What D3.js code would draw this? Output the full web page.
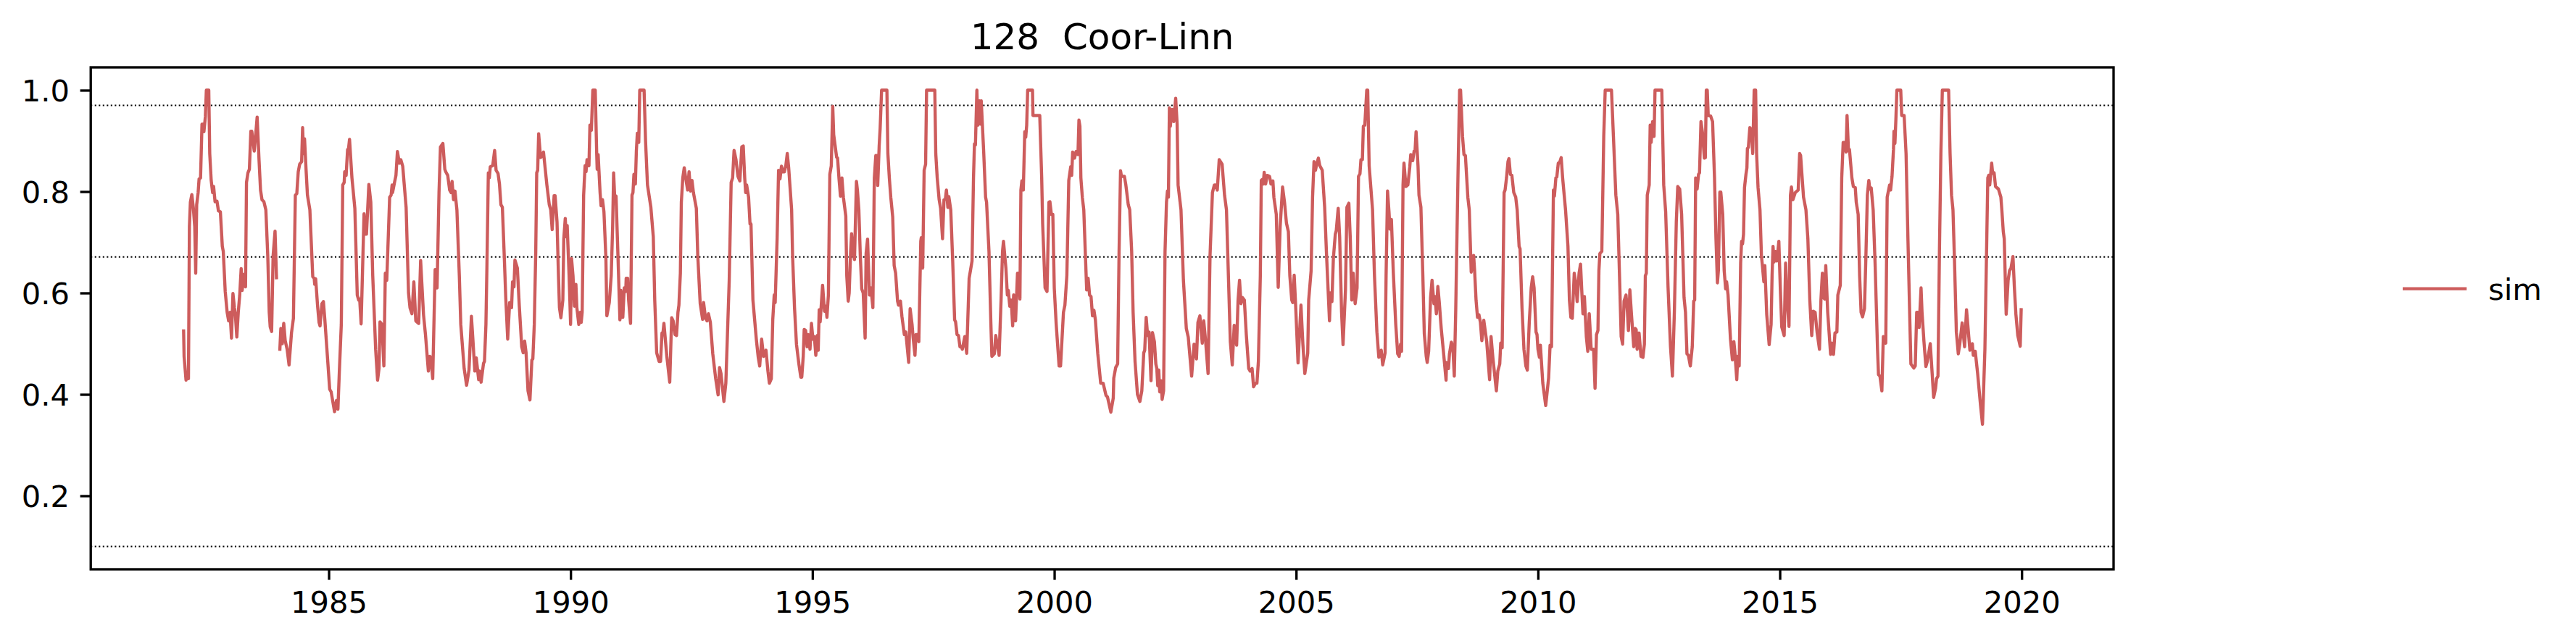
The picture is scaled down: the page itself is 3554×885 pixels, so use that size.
<!DOCTYPE html>
<html>
<head>
<meta charset="utf-8">
<script src="https://cdnjs.cloudflare.com/ajax/libs/d3/7.8.5/d3.min.js"></script>
<style>
html,body{margin:0;padding:0;background:#fff}
svg{display:block}
text{font-family:"DejaVu Sans",sans-serif;fill:#000}
</style>
</head>
<body>
<div id="chart"></div>
<script>
const chartTitle = "128  Coor-Linn";
const seriesName = "sim";
const xTicks = [1985,1990,1995,2000,2005,2010,2015,2020];
const yTicks = [0.2,0.4,0.6,0.8,1.0];
const refLevels = [0.97,0.671,0.1];
const xLimits = [1980.08,2021.9];
const yLimits = [0.055,1.045];

// [decimal year, value] — the record breaks between simBeforeGap and the rest
const simBeforeGap = [[1982.00,.525],[1982.01,.475],[1982.05,.428],[1982.06,.4435],[1982.08,.4435],[1982.10,.431],[1982.12,.731],[1982.14,.779],[1982.17,.794],[1982.20,.769],[1982.23,.731],[1982.25,.639],[1982.27,.774],[1982.30,.798],[1982.32,.825],[1982.35,.827],[1982.38,.933],[1982.41,.933],[1982.42,.918],[1982.45,.948],[1982.47,1],[1982.52,1],[1982.54,.875],[1982.57,.822],[1982.60,.798],[1982.62,.810],[1982.65,.780],[1982.69,.781],[1982.72,.762],[1982.76,.760],[1982.80,.692],[1982.82,.682],[1982.86,.603],[1982.90,.562],[1982.93,.545],[1982.96,.562],[1982.99,.511],[1983.02,.599],[1983.05,.571],[1983.07,.557],[1983.10,.513],[1983.13,.562],[1983.16,.596],[1983.19,.648],[1983.21,.605],[1983.25,.637],[1983.28,.612],[1983.30,.818],[1983.33,.837],[1983.36,.844],[1983.39,.919],[1983.41,.919],[1983.46,.880],[1983.49,.912],[1983.52,.947],[1983.56,.861],[1983.59,.803],[1983.62,.784],[1983.66,.780],[1983.70,.764],[1983.74,.673],[1983.77,.562],[1983.79,.533],[1983.82,.524],[1983.85,.673],[1983.89,.722],[1983.92,.630]];
const sim1984to1988 = [[1983.99,.489],[1984.01,.530],[1984.04,.500],[1984.07,.540],[1984.10,.506],[1984.14,.489],[1984.18,.458],[1984.23,.521],[1984.27,.550],[1984.31,.793],[1984.34,.796],[1984.37,.839],[1984.40,.854],[1984.44,.859],[1984.46,.926],[1984.48,.875],[1984.50,.904],[1984.53,.846],[1984.56,.793],[1984.61,.764],[1984.67,.632],[1984.70,.629],[1984.71,.617],[1984.73,.628],[1984.77,.574],[1984.80,.542],[1984.82,.535],[1984.86,.579],[1984.89,.583],[1984.92,.547],[1984.98,.465],[1985.02,.410],[1985.05,.405],[1985.12,.366],[1985.16,.388],[1985.19,.371],[1985.22,.446],[1985.26,.538],[1985.29,.813],[1985.32,.818],[1985.33,.839],[1985.36,.832],[1985.39,.883],[1985.41,.885],[1985.43,.903],[1985.48,.827],[1985.54,.767],[1985.59,.596],[1985.62,.586],[1985.64,.588],[1985.67,.539],[1985.73,.756],[1985.75,.716],[1985.78,.716],[1985.83,.814],[1985.87,.779],[1985.91,.634],[1985.97,.489],[1986.01,.428],[1986.04,.451],[1986.06,.543],[1986.10,.538],[1986.14,.456],[1986.17,.639],[1986.20,.625],[1986.26,.789],[1986.29,.793],[1986.31,.813],[1986.32,.798],[1986.36,.818],[1986.39,.832],[1986.42,.879],[1986.46,.856],[1986.49,.863],[1986.53,.850],[1986.60,.769],[1986.65,.600],[1986.68,.571],[1986.72,.559],[1986.76,.622],[1986.80,.545],[1986.86,.540],[1986.90,.664],[1986.96,.557],[1987.00,.518],[1987.06,.446],[1987.09,.475],[1987.11,.473],[1987.15,.431],[1987.20,.646],[1987.24,.610],[1987.28,.798],[1987.31,.888],[1987.36,.895],[1987.40,.844],[1987.42,.839],[1987.46,.832],[1987.50,.803],[1987.53,.798],[1987.55,.820],[1987.58,.784],[1987.61,.801],[1987.65,.764],[1987.70,.634],[1987.73,.538],[1987.80,.451],[1987.85,.418],[1987.90,.448],[1987.95,.554],[1987.98,.509],[1988.02,.446],[1988.05,.472],[1988.10,.429],[1988.12,.446],[1988.15,.424],[1988.20,.461],[1988.22,.465],[1988.25,.538],[1988.27,.649],[1988.30,.837]];
const sim1988to1994 = [[1988.32,.827],[1988.34,.849],[1988.39,.851],[1988.43,.881],[1988.46,.842],[1988.50,.836],[1988.53,.815],[1988.56,.774],[1988.59,.769],[1988.63,.670],[1988.66,.591],[1988.70,.509],[1988.74,.581],[1988.78,.571],[1988.80,.622],[1988.83,.612],[1988.85,.665],[1988.90,.649],[1988.94,.574],[1988.99,.494],[1989.02,.482],[1989.05,.505],[1989.08,.482],[1989.12,.407],[1989.16,.389],[1989.20,.468],[1989.22,.470],[1989.25,.538],[1989.28,.682],[1989.30,.837],[1989.32,.842],[1989.34,.914],[1989.38,.867],[1989.42,.871],[1989.44,.878],[1989.51,.813],[1989.56,.774],[1989.59,.764],[1989.62,.725],[1989.66,.792],[1989.68,.792],[1989.72,.740],[1989.75,.634],[1989.77,.571],[1989.80,.551],[1989.84,.586],[1989.86,.707],[1989.89,.747],[1989.91,.711],[1989.93,.733],[1989.97,.634],[1990.00,.538],[1990.02,.668],[1990.05,.634],[1990.08,.574],[1990.11,.617],[1990.13,.571],[1990.17,.538],[1990.20,.562],[1990.22,.542],[1990.24,.562],[1990.27,.793],[1990.30,.851],[1990.32,.839],[1990.34,.863],[1990.38,.851],[1990.40,.931],[1990.43,.921],[1990.46,1],[1990.51,1],[1990.54,.875],[1990.55,.844],[1990.57,.873],[1990.61,.798],[1990.63,.772],[1990.66,.784],[1990.69,.760],[1990.73,.670],[1990.75,.555],[1990.80,.581],[1990.84,.634],[1990.87,.731],[1990.89,.837],[1990.91,.793],[1990.94,.791],[1990.98,.673],[1991.02,.547],[1991.04,.605],[1991.06,.552],[1991.08,.552],[1991.11,.610],[1991.14,.603],[1991.15,.629],[1991.18,.629],[1991.20,.586],[1991.24,.540],[1991.27,.793],[1991.29,.798],[1991.31,.834],[1991.34,.815],[1991.36,.880],[1991.38,.915],[1991.41,.897],[1991.43,1],[1991.52,1],[1991.55,.900],[1991.59,.813],[1991.66,.769],[1991.71,.711],[1991.74,.586],[1991.78,.482],[1991.83,.465],[1991.86,.465],[1991.89,.521],[1991.91,.521],[1991.93,.540],[1991.99,.475],[1992.05,.424],[1992.09,.551],[1992.12,.545],[1992.16,.518],[1992.19,.516],[1992.22,.562],[1992.24,.576],[1992.27,.639],[1992.29,.779],[1992.32,.827],[1992.35,.847],[1992.38,.827],[1992.42,.803],[1992.45,.839],[1992.48,.801],[1992.51,.822],[1992.54,.798],[1992.60,.767],[1992.63,.673],[1992.68,.579],[1992.73,.548],[1992.75,.581],[1992.79,.550],[1992.82,.545],[1992.85,.559],[1992.89,.542],[1992.94,.480],[1993.00,.431],[1993.05,.399],[1993.08,.453],[1993.11,.441],[1993.17,.386],[1993.21,.422],[1993.24,.509],[1993.28,.625],[1993.32,.818],[1993.35,.827],[1993.38,.881],[1993.42,.863],[1993.46,.830],[1993.50,.821],[1993.54,.888],[1993.57,.890],[1993.60,.827],[1993.62,.798],[1993.64,.813],[1993.68,.789],[1993.71,.736],[1993.73,.736],[1993.77,.586],[1993.84,.509],[1993.88,.473],[1993.91,.456],[1993.95,.509],[1993.99,.475],[1994.04,.487],[1994.08,.446],[1994.11,.422],[1994.15,.431],[1994.18,.547],[1994.21,.596],[1994.23,.581],[1994.27,.707],[1994.30,.842],[1994.33,.825],[1994.36,.850],[1994.39,.839],[1994.42,.839],[1994.45,.851],[1994.48,.875],[1994.51,.846],[1994.57,.764],[1994.59,.673],[1994.63,.571],[1994.67,.499],[1994.72,.460],[1994.76,.434]];
const sim1994to2001 = [[1994.78,.434],[1994.81,.475],[1994.83,.528],[1994.86,.526],[1994.89,.494],[1994.91,.518],[1994.95,.489],[1994.98,.540],[1995.01,.509],[1995.04,.514],[1995.07,.477],[1995.10,.516],[1995.12,.487],[1995.14,.567],[1995.16,.543],[1995.21,.615],[1995.25,.564],[1995.28,.574],[1995.30,.552],[1995.33,.596],[1995.36,.834],[1995.39,.851],[1995.42,.968],[1995.44,.912],[1995.50,.868],[1995.52,.866],[1995.55,.825],[1995.58,.791],[1995.61,.827],[1995.64,.789],[1995.69,.752],[1995.71,.634],[1995.74,.584],[1995.76,.600],[1995.79,.682],[1995.81,.717],[1995.84,.682],[1995.87,.666],[1995.91,.820],[1995.93,.803],[1995.96,.764],[1995.99,.673],[1996.02,.608],[1996.05,.600],[1996.09,.511],[1996.11,.678],[1996.14,.706],[1996.18,.596],[1996.21,.610],[1996.25,.571],[1996.28,.827],[1996.31,.871],[1996.33,.871],[1996.35,.812],[1996.38,.890],[1996.40,.924],[1996.43,1],[1996.54,1],[1996.56,.875],[1996.59,.827],[1996.62,.789],[1996.66,.750],[1996.69,.654],[1996.72,.639],[1996.76,.584],[1996.78,.576],[1996.82,.584],[1996.85,.554],[1996.90,.518],[1996.93,.523],[1996.99,.463],[1997.02,.569],[1997.06,.538],[1997.08,.514],[1997.12,.477],[1997.14,.518],[1997.17,.518],[1997.20,.504],[1997.24,.702],[1997.25,.709],[1997.28,.649],[1997.31,.842],[1997.34,.854],[1997.36,1],[1997.53,1],[1997.55,.875],[1997.58,.827],[1997.62,.784],[1997.65,.767],[1997.69,.707],[1997.72,.784],[1997.75,.786],[1997.77,.803],[1997.80,.769],[1997.82,.790],[1997.86,.764],[1997.90,.663],[1997.94,.547],[1997.96,.543],[1997.99,.518],[1998.02,.516],[1998.05,.494],[1998.08,.494],[1998.10,.489],[1998.15,.514],[1998.19,.481],[1998.24,.629],[1998.27,.646],[1998.30,.663],[1998.33,.827],[1998.35,.894],[1998.37,.892],[1998.40,1],[1998.42,.931],[1998.45,.979],[1998.47,.933],[1998.49,.979],[1998.54,.880],[1998.58,.789],[1998.60,.779],[1998.65,.682],[1998.69,.538],[1998.71,.475],[1998.76,.480],[1998.79,.516],[1998.86,.477],[1998.90,.586],[1998.93,.682],[1998.95,.702],[1999.00,.649],[1999.03,.596],[1999.05,.605],[1999.08,.574],[1999.11,.586],[1999.14,.535],[1999.16,.596],[1999.20,.545],[1999.24,.639],[1999.26,.639],[1999.29,.588],[1999.31,.803],[1999.33,.821],[1999.36,.803],[1999.39,.918],[1999.41,.907],[1999.43,.931],[1999.45,1],[1999.55,1],[1999.56,.950],[1999.70,.950],[1999.74,.827],[1999.76,.736],[1999.81,.610],[1999.85,.603],[1999.89,.779],[1999.91,.780],[1999.94,.755],[1999.97,.755],[2000.00,.610],[2000.04,.538],[2000.10,.456],[2000.13,.456],[2000.19,.562],[2000.22,.576],[2000.26,.634],[2000.30,.822],[2000.34,.849],[2000.36,.832],[2000.38,.878],[2000.42,.866],[2000.45,.879],[2000.49,.873],[2000.51,.941],[2000.53,.929],[2000.55,.827],[2000.58,.789],[2000.61,.764],[2000.65,.658],[2000.67,.606],[2000.70,.629],[2000.73,.596],[2000.76,.593],[2000.79,.555],[2000.82,.566],[2000.85,.547],[2000.90,.480],[2000.96,.422],[2001.01,.422],[2001.07,.398],[2001.10,.395],[2001.17,.365]];
const sim2001to2007 = [[2001.22,.393],[2001.23,.432],[2001.27,.453],[2001.31,.460],[2001.34,.682],[2001.37,.841],[2001.39,.830],[2001.45,.830],[2001.48,.813],[2001.53,.774],[2001.56,.764],[2001.60,.682],[2001.63,.562],[2001.67,.465],[2001.72,.400],[2001.77,.386],[2001.81,.407],[2001.85,.482],[2001.87,.487],[2001.90,.552],[2001.93,.516],[2001.96,.523],[2002.00,.427],[2002.03,.522],[2002.07,.504],[2002.10,.460],[2002.12,.451],[2002.14,.417],[2002.16,.448],[2002.18,.405],[2002.21,.427],[2002.23,.390],[2002.26,.407],[2002.29,.682],[2002.32,.779],[2002.34,.801],[2002.36,.789],[2002.38,.965],[2002.40,.929],[2002.43,.962],[2002.45,.962],[2002.47,.938],[2002.51,.984],[2002.54,.933],[2002.56,.813],[2002.62,.764],[2002.67,.625],[2002.73,.530],[2002.77,.513],[2002.84,.436],[2002.89,.499],[2002.94,.470],[2002.97,.542],[2003.01,.555],[2003.06,.501],[2003.09,.545],[2003.13,.504],[2003.18,.441],[2003.22,.673],[2003.27,.798],[2003.31,.813],[2003.34,.813],[2003.37,.803],[2003.41,.863],[2003.47,.854],[2003.52,.793],[2003.56,.764],[2003.60,.634],[2003.64,.504],[2003.68,.458],[2003.72,.536],[2003.77,.497],[2003.80,.586],[2003.83,.625],[2003.86,.579],[2003.89,.591],[2003.93,.586],[2003.97,.518],[2004.02,.451],[2004.05,.446],[2004.09,.451],[2004.12,.415],[2004.16,.422],[2004.19,.422],[2004.22,.465],[2004.26,.634],[2004.28,.822],[2004.30,.824],[2004.32,.815],[2004.34,.838],[2004.37,.815],[2004.40,.832],[2004.45,.830],[2004.48,.815],[2004.52,.821],[2004.54,.789],[2004.59,.755],[2004.63,.611],[2004.67,.731],[2004.72,.809],[2004.76,.779],[2004.80,.738],[2004.84,.721],[2004.87,.634],[2004.91,.586],[2004.93,.581],[2004.96,.635],[2004.99,.576],[2005.04,.462],[2005.10,.576],[2005.14,.499],[2005.18,.441],[2005.24,.481],[2005.26,.586],[2005.31,.644],[2005.34,.789],[2005.37,.859],[2005.40,.842],[2005.43,.856],[2005.46,.866],[2005.49,.851],[2005.54,.842],[2005.59,.769],[2005.63,.673],[2005.69,.545],[2005.71,.600],[2005.74,.583],[2005.77,.668],[2005.81,.716],[2005.83,.723],[2005.87,.767],[2005.90,.711],[2005.94,.562],[2005.97,.498],[2006.02,.605],[2006.05,.769],[2006.09,.777],[2006.12,.707],[2006.15,.586],[2006.18,.639],[2006.22,.579],[2006.26,.610],[2006.29,.830],[2006.32,.835],[2006.34,.863],[2006.37,.863],[2006.39,.929],[2006.42,.931],[2006.46,1],[2006.48,1],[2006.51,.851],[2006.58,.764],[2006.62,.634],[2006.67,.523],[2006.71,.473],[2006.76,.487],[2006.79,.458],[2006.84,.482],[2006.86,.634],[2006.89,.801],[2006.92,.760],[2006.94,.726],[2006.97,.745],[2007.01,.639],[2007.06,.538],[2007.10,.480],[2007.13,.475],[2007.16,.499],[2007.18,.485],[2007.21,.813],[2007.23,.856],[2007.27,.810],[2007.31,.813],[2007.35,.849],[2007.37,.873],[2007.41,.861],[2007.44,.880],[2007.46,.882],[2007.48,.918],[2007.52,.851],[2007.54,.793],[2007.58,.769],[2007.62,.634]];
const sim2007to2014 = [[2007.65,.520],[2007.69,.475],[2007.71,.463],[2007.74,.485],[2007.78,.591],[2007.81,.625],[2007.85,.579],[2007.87,.593],[2007.90,.559],[2007.93,.613],[2007.96,.581],[2008.00,.530],[2008.05,.480],[2008.10,.428],[2008.11,.463],[2008.15,.451],[2008.17,.480],[2008.21,.503],[2008.24,.494],[2008.27,.436],[2008.30,.567],[2008.32,.682],[2008.35,.851],[2008.38,1],[2008.40,1],[2008.44,.909],[2008.47,.873],[2008.50,.871],[2008.55,.789],[2008.58,.764],[2008.62,.641],[2008.67,.674],[2008.69,.644],[2008.72,.586],[2008.75,.552],[2008.78,.557],[2008.81,.542],[2008.84,.506],[2008.88,.546],[2008.94,.504],[2009.00,.429],[2009.03,.514],[2009.07,.470],[2009.14,.407],[2009.17,.446],[2009.21,.460],[2009.23,.501],[2009.26,.492],[2009.30,.798],[2009.32,.803],[2009.35,.827],[2009.38,.859],[2009.40,.865],[2009.43,.834],[2009.46,.832],[2009.50,.798],[2009.54,.789],[2009.57,.764],[2009.61,.692],[2009.63,.687],[2009.67,.571],[2009.71,.489],[2009.75,.456],[2009.78,.448],[2009.82,.542],[2009.86,.610],[2009.89,.632],[2009.92,.610],[2009.96,.523],[2009.98,.518],[2010.00,.489],[2010.03,.473],[2010.05,.497],[2010.10,.422],[2010.16,.378],[2010.22,.432],[2010.25,.497],[2010.28,.494],[2010.32,.803],[2010.34,.791],[2010.37,.827],[2010.39,.829],[2010.42,.856],[2010.45,.858],[2010.48,.867],[2010.51,.827],[2010.57,.764],[2010.62,.692],[2010.65,.586],[2010.68,.552],[2010.71,.550],[2010.75,.639],[2010.78,.620],[2010.81,.583],[2010.85,.639],[2010.88,.657],[2010.91,.596],[2010.93,.559],[2010.96,.593],[2011.00,.514],[2011.03,.485],[2011.06,.559],[2011.10,.489],[2011.15,.489],[2011.18,.412],[2011.21,.518],[2011.24,.526],[2011.26,.644],[2011.28,.678],[2011.32,.682],[2011.36,.909],[2011.39,1],[2011.52,1],[2011.56,.909],[2011.61,.793],[2011.65,.755],[2011.69,.620],[2011.72,.514],[2011.75,.499],[2011.78,.584],[2011.82,.596],[2011.85,.562],[2011.87,.526],[2011.90,.606],[2011.93,.562],[2011.98,.494],[2012.01,.530],[2012.03,.528],[2012.05,.489],[2012.09,.521],[2012.13,.475],[2012.17,.473],[2012.20,.499],[2012.22,.634],[2012.24,.639],[2012.26,.793],[2012.30,.813],[2012.32,.931],[2012.34,.897],[2012.37,.938],[2012.40,.909],[2012.42,1],[2012.56,1],[2012.60,.813],[2012.64,.760],[2012.69,.610],[2012.74,.494],[2012.78,.436],[2012.82,.562],[2012.86,.740],[2012.89,.810],[2012.93,.805],[2012.97,.755],[2013.02,.591],[2013.05,.562],[2013.08,.480],[2013.11,.477],[2013.15,.456],[2013.19,.494],[2013.22,.584],[2013.24,.586],[2013.26,.827],[2013.29,.805],[2013.32,.834],[2013.34,.837],[2013.37,.938],[2013.40,.917],[2013.44,.866],[2013.46,.867],[2013.48,1],[2013.50,1],[2013.52,.950],[2013.57,.949],[2013.61,.938],[2013.65,.827],[2013.68,.707],[2013.71,.620],[2013.73,.644],[2013.76,.799],[2013.78,.799],[2013.82,.755],[2013.85,.644],[2013.88,.608],[2013.90,.622],[2013.93,.596],[2013.98,.509],[2014.02,.468],[2014.05,.504],[2014.07,.485]];
const sim2014to2020 = [[2014.11,.429],[2014.13,.475],[2014.16,.456],[2014.19,.659],[2014.21,.702],[2014.23,.697],[2014.25,.716],[2014.27,.808],[2014.30,.834],[2014.32,.847],[2014.33,.885],[2014.35,.887],[2014.38,.926],[2014.41,.923],[2014.44,.875],[2014.47,1],[2014.50,1],[2014.52,.875],[2014.55,.808],[2014.59,.764],[2014.62,.673],[2014.64,.654],[2014.67,.622],[2014.69,.654],[2014.73,.557],[2014.78,.498],[2014.82,.538],[2014.84,.634],[2014.86,.692],[2014.88,.661],[2014.91,.682],[2014.94,.663],[2014.98,.702],[2015.01,.610],[2015.04,.533],[2015.09,.516],[2015.12,.659],[2015.15,.586],[2015.19,.534],[2015.22,.793],[2015.24,.809],[2015.27,.784],[2015.32,.798],[2015.38,.803],[2015.41,.875],[2015.43,.871],[2015.49,.789],[2015.54,.764],[2015.58,.707],[2015.62,.586],[2015.66,.516],[2015.69,.564],[2015.73,.562],[2015.77,.523],[2015.82,.489],[2015.85,.586],[2015.88,.639],[2015.90,.591],[2015.93,.588],[2015.95,.654],[2015.99,.562],[2016.05,.479],[2016.08,.501],[2016.11,.479],[2016.14,.521],[2016.18,.523],[2016.20,.596],[2016.25,.615],[2016.28,.827],[2016.31,.897],[2016.34,.897],[2016.37,.878],[2016.39,.950],[2016.42,.880],[2016.44,.883],[2016.49,.827],[2016.52,.810],[2016.56,.808],[2016.58,.779],[2016.62,.755],[2016.65,.634],[2016.68,.562],[2016.71,.553],[2016.75,.569],[2016.78,.673],[2016.81,.793],[2016.84,.822],[2016.86,.805],[2016.89,.807],[2016.93,.764],[2016.97,.658],[2017.02,.489],[2017.04,.439],[2017.07,.436],[2017.11,.407],[2017.14,.514],[2017.19,.501],[2017.22,.789],[2017.27,.813],[2017.29,.803],[2017.32,.830],[2017.35,.883],[2017.36,.919],[2017.38,.895],[2017.40,.943],[2017.42,1],[2017.50,1],[2017.52,.950],[2017.57,.950],[2017.61,.875],[2017.65,.702],[2017.69,.538],[2017.71,.460],[2017.77,.452],[2017.80,.456],[2017.83,.562],[2017.85,.562],[2017.88,.532],[2017.92,.610],[2017.94,.562],[2017.98,.504],[2018.02,.455],[2018.05,.465],[2018.11,.500],[2018.15,.441],[2018.18,.394],[2018.22,.412],[2018.24,.431],[2018.27,.436],[2018.30,.682],[2018.33,.875],[2018.36,1],[2018.49,1],[2018.52,.875],[2018.55,.793],[2018.58,.764],[2018.61,.668],[2018.65,.523],[2018.69,.480],[2018.72,.499],[2018.77,.541],[2018.82,.494],[2018.86,.567],[2018.89,.533],[2018.93,.487],[2018.98,.500],[2019.00,.477],[2019.04,.485],[2019.09,.441],[2019.15,.378],[2019.19,.341],[2019.24,.489],[2019.27,.658],[2019.30,.827],[2019.32,.832],[2019.34,.813],[2019.38,.856],[2019.40,.836],[2019.43,.837],[2019.46,.810],[2019.52,.805],[2019.57,.789],[2019.59,.764],[2019.62,.721],[2019.64,.707],[2019.68,.558],[2019.72,.625],[2019.75,.644],[2019.78,.649],[2019.82,.672],[2019.85,.610],[2019.88,.559],[2019.92,.516],[2019.97,.495],[2019.99,.567]];

const simAfterGap = [].concat(sim1984to1988, sim1988to1994, sim1994to2001, sim2001to2007, sim2007to2014, sim2014to2020);
const simSegments = [simBeforeGap, simAfterGap];

const W = 3554, H = 885;
const PT = 300/72;                       // one point in pixels at the figure's resolution
const box = {left:125.2, right:2916, top:93, bottom:786};
const RED = "#CD5C5C";

const svg = d3.select("#chart").append("svg").attr("width",W).attr("height",H).attr("viewBox",`0 0 ${W} ${H}`);
const x = d3.scaleLinear().domain(xLimits).range([box.left,box.right]);
const y = d3.scaleLinear().domain(yLimits).range([box.bottom,box.top]);

svg.append("defs").append("clipPath").attr("id","plot").append("rect")
  .attr("x",box.left).attr("y",box.top).attr("width",box.right-box.left).attr("height",box.bottom-box.top);
const plot = svg.append("g").attr("clip-path","url(#plot)");

plot.selectAll("line.ref").data(refLevels).join("line").attr("class","ref")
  .attr("x1",box.left).attr("x2",box.right)
  .attr("y1",d=>y(d)).attr("y2",d=>y(d))
  .attr("stroke","#000").attr("stroke-width",0.5*PT)
  .attr("stroke-dasharray",`${0.5*PT} ${0.825*PT}`);

const line = d3.line().x(d=>x(d[0])).y(d=>y(d[1]));
plot.selectAll("path.sim").data(simSegments).join("path").attr("class","sim")
  .attr("d",line).attr("fill","none").attr("stroke",RED)
  .attr("stroke-width",1.05*PT).attr("stroke-linejoin","round").attr("stroke-linecap","square");

const tickLen = 3.5*PT, tickPad = 3.5*PT, tickW = 0.8*PT, fs = 10*PT;
const gx = svg.append("g").attr("transform",`translate(0,${box.bottom})`)
  .call(d3.axisBottom(x).tickValues(xTicks).tickFormat(d3.format("d")).tickSize(tickLen).tickPadding(tickPad));
const gy = svg.append("g").attr("transform",`translate(${box.left},0)`)
  .call(d3.axisLeft(y).tickValues(yTicks).tickFormat(d3.format(".1f")).tickSize(tickLen).tickPadding(tickPad));
[gx,gy].forEach(g=>{
  g.select(".domain").remove();
  g.selectAll(".tick line").attr("stroke","#000").attr("stroke-width",tickW);
  g.selectAll(".tick text").attr("font-size",fs).attr("font-family","DejaVu Sans").attr("fill","#000");
});
gx.selectAll(".tick text").attr("dy","0.729em");
gy.selectAll(".tick text").attr("dy","0.365em");

svg.append("rect").attr("x",box.left).attr("y",box.top)
  .attr("width",box.right-box.left).attr("height",box.bottom-box.top)
  .attr("fill","none").attr("stroke","#000").attr("stroke-width",tickW);

svg.append("text").attr("x",(box.left+box.right)/2).attr("y",box.top-6*PT)
  .attr("text-anchor","middle").attr("font-size",12*PT).style("white-space","pre").text(chartTitle);

svg.append("line").attr("x1",3317).attr("x2",3401).attr("y1",398.7).attr("y2",398.7)
  .attr("stroke",RED).attr("stroke-width",1*PT).attr("stroke-linecap","square");
svg.append("text").attr("x",3433).attr("y",414.3).attr("font-size",fs).text(seriesName);
</script>
</body>
</html>
